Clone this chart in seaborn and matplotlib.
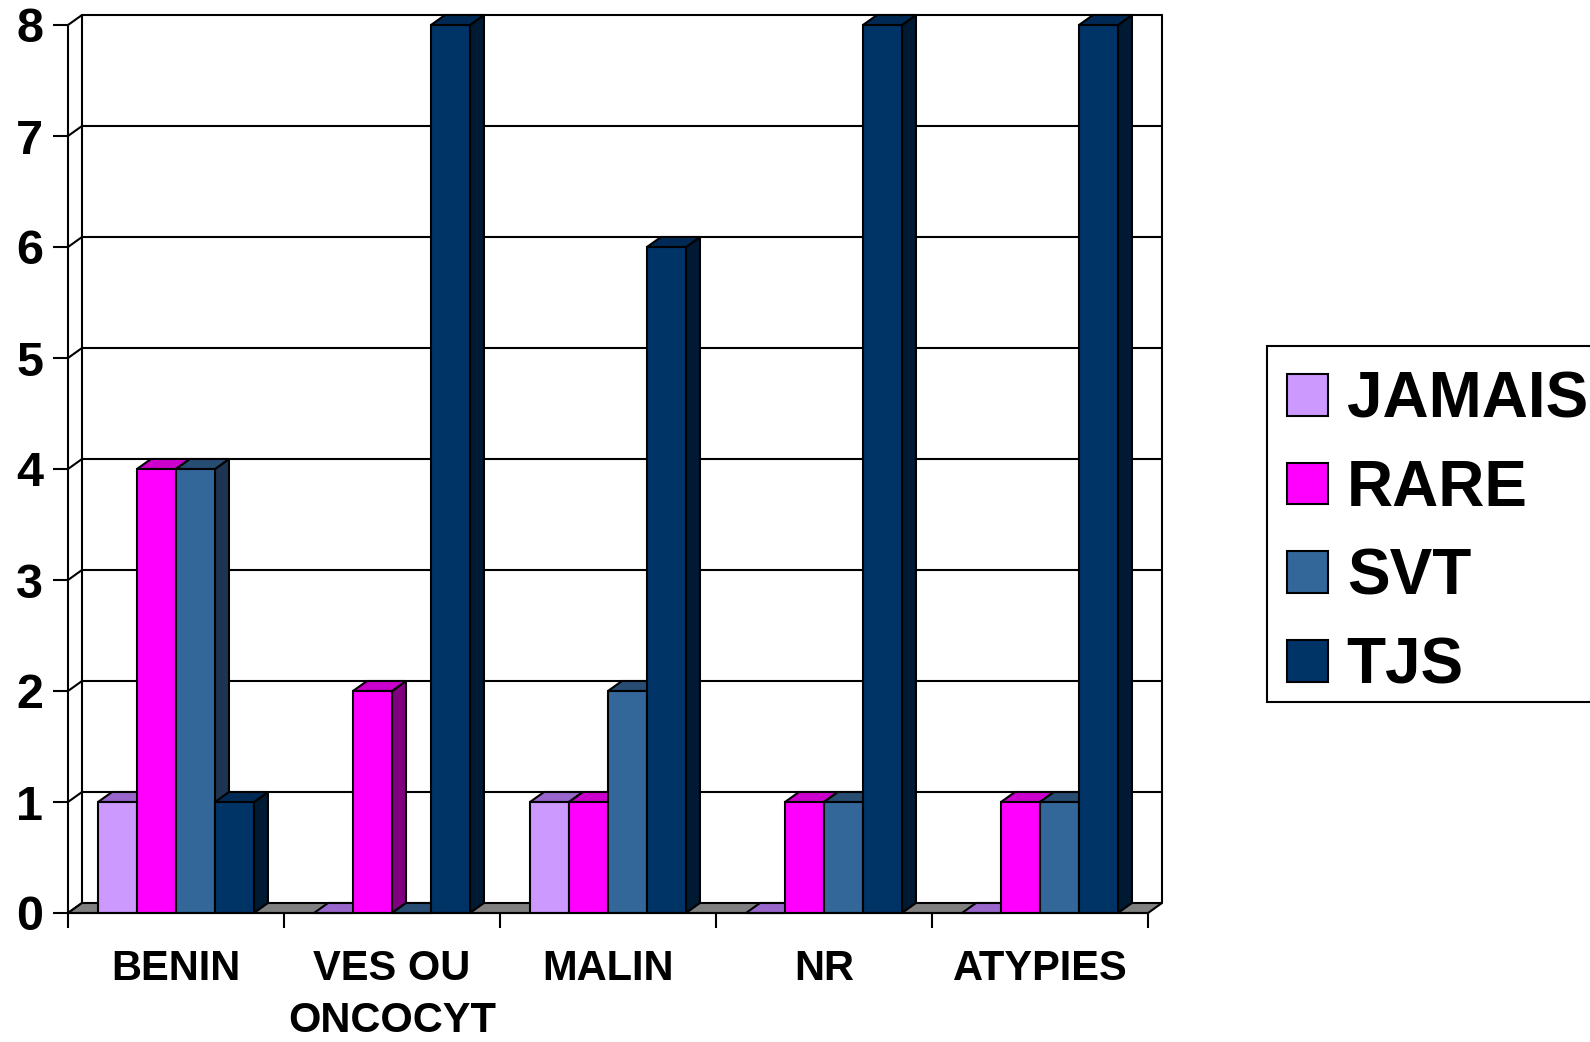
import matplotlib
matplotlib.use("Agg")
import matplotlib.pyplot as plt
from matplotlib.patches import Polygon, Patch, Rectangle
import seaborn as sns
import pandas as pd
import numpy as np

categories = ["BENIN", "VES OU\nONCOCYT", "MALIN", "NR", "ATYPIES"]
series = ["JAMAIS", "RARE", "SVT", "TJS"]
jamais = [1, 0, 1, 0, 0]
rare = [4, 2, 1, 1, 1]
svt = [4, 0, 2, 1, 1]
tjs = [1, 8, 6, 8, 8]
y_ticks = [0, 1, 2, 3, 4, 5, 6, 7, 8]

front_colors = ["#CC99FF", "#FF00FF", "#336699", "#003366"]
top_colors = ["#9966CC", "#CC00CC", "#274D73", "#002A55"]
side_colors = ["#6B479E", "#800080", "#1D3552", "#001A33"]

rows = []
for s, vals in zip(series, [jamais, rare, svt, tjs]):
    for c, v in zip(categories, vals):
        rows.append({"cat": c, "freq": s, "val": v})
df = pd.DataFrame(rows)

sns.set_theme(style="white")
plt.rcParams["font.family"] = ["Liberation Sans", "DejaVu Sans"]
plt.rcParams["font.weight"] = "bold"
plt.rcParams["text.color"] = "black"
plt.rcParams["xtick.color"] = "black"
plt.rcParams["ytick.color"] = "black"
plt.rcParams["xtick.labelcolor"] = "black"
plt.rcParams["ytick.labelcolor"] = "black"

W, H = 1590, 1042
fig = plt.figure(figsize=(W / 100, H / 100), dpi=100)
left_px, right_px, bottom_px, top_px = 68, 1162, 913, 15
ax = fig.add_axes([left_px / W, 1 - bottom_px / H, (right_px - left_px) / W, (bottom_px - top_px) / H])

# depth in data units
px_x = (1148 - 68) / 5.0
px_y = (913 - 25) / 8.0
dx = 14 / px_x
dy = 10 / px_y

sns.barplot(data=df, x="cat", y="val", hue="freq", order=categories, hue_order=series,
            palette=front_colors, width=0.722, saturation=1, edgecolor="black",
            linewidth=1.5, legend=False, errorbar=None, ax=ax)
ax.set_xlim(-0.5, 4.5 + dx)
ax.set_ylim(0, 8 + dy)

lw = 1.5
x0w, x1w = -0.5, 4.5
# back wall gridlines and left wall
for t in y_ticks:
    if t > 0:
        ax.plot([x0w + dx, x1w + dx], [t + dy, t + dy], color="black", lw=lw, zorder=0.5, clip_on=False)
    ax.plot([x0w, x0w + dx], [t, t + dy], color="black", lw=lw, zorder=0.6, clip_on=False)
ax.plot([x0w + dx, x0w + dx], [dy, 8 + dy], color="black", lw=lw, zorder=0.6, clip_on=False)
ax.plot([x1w + dx, x1w + dx], [dy, 8 + dy], color="black", lw=lw, zorder=0.6, clip_on=False)
# floor
ax.add_patch(Polygon([(x0w, 0), (x1w, 0), (x1w + dx, dy), (x0w + dx, dy)], closed=True,
                     facecolor="#808080", edgecolor="black", lw=lw, zorder=1, clip_on=False))

# 3D faces for bars
bars = [p for p in ax.patches if hasattr(p, "get_width") and p.get_width() < 0.5]

def series_index(p):
    fc = p.get_facecolor()[:3]
    for i, c in enumerate(front_colors):
        if np.allclose(fc, matplotlib.colors.to_rgb(c), atol=0.01):
            return i
    return 0

bars.sort(key=lambda p: p.get_x())
for i, p in enumerate(bars):
    si = series_index(p)
    x0 = p.get_x()
    x1 = x0 + p.get_width()
    h = p.get_height()
    z = 10 + 3 * i
    top = Polygon([(x0, h), (x1, h), (x1 + dx, h + dy), (x0 + dx, h + dy)], closed=True,
                  facecolor=top_colors[si], edgecolor="black", lw=lw, zorder=z + 1, clip_on=False)
    side = Polygon([(x1, 0), (x1 + dx, dy), (x1 + dx, h + dy), (x1, h)], closed=True,
                   facecolor=side_colors[si], edgecolor="black", lw=lw, zorder=z, clip_on=False)
    ax.add_patch(side)
    ax.add_patch(top)
    p.set_zorder(z + 2)
    if h == 0:
        p.set_visible(False)

# spines and ticks
for s in ["top", "right"]:
    ax.spines[s].set_visible(False)
ax.spines["left"].set_bounds(0, 8)
ax.spines["bottom"].set_bounds(-0.5, 4.5)
for s in ["left", "bottom"]:
    ax.spines[s].set_linewidth(lw)
    ax.spines[s].set_color("black")
    ax.spines[s].set_zorder(200)

ax.set_yticks(y_ticks)
ax.set_yticklabels([str(t) for t in y_ticks], fontsize=35, fontweight="bold", color="black")
ax.tick_params(axis="y", which="major", direction="out", length=10.8, width=lw, color="black", pad=7, left=True)

ax.set_xticks(np.arange(-0.5, 5.0, 1.0))
ax.set_xticklabels([])
ax.set_xticks(np.arange(0, 5), minor=True)
ax.set_xticklabels(categories, minor=True, fontsize=30, fontweight="bold", linespacing=1.38, color="black")
ax.tick_params(axis="x", which="major", direction="out", length=10.8, width=lw, color="black", bottom=True)
ax.tick_params(axis="x", which="minor", length=0, pad=26, bottom=True)
ax.set_xlabel("")
ax.set_ylabel("")
ax.grid(False)

# legend frame (drawn as a plain rectangle, cut by the figure edge as in the reference)
fig.patches.append(Rectangle((1267 / W, 1 - 702 / H), (1700 - 1267) / W, (702 - 346) / H,
                             transform=fig.transFigure, facecolor="white", edgecolor="black",
                             lw=1.5, zorder=0))

handles = [Patch(facecolor=c, edgecolor="black", lw=1.5) for c in front_colors]
leg = fig.legend(handles, series, loc="upper left", bbox_to_anchor=(1263 / W, 1 - 346 / H),
                 bbox_transform=fig.transFigure, frameon=False,
                 prop={"size": 46, "weight": "bold"}, handlelength=0.63, handleheight=0.63,
                 handletextpad=0.3, labelspacing=0.45, borderpad=0.38, borderaxespad=0,
                 labelcolor="black")

fig.savefig("out.png", dpi=100, facecolor="white")
